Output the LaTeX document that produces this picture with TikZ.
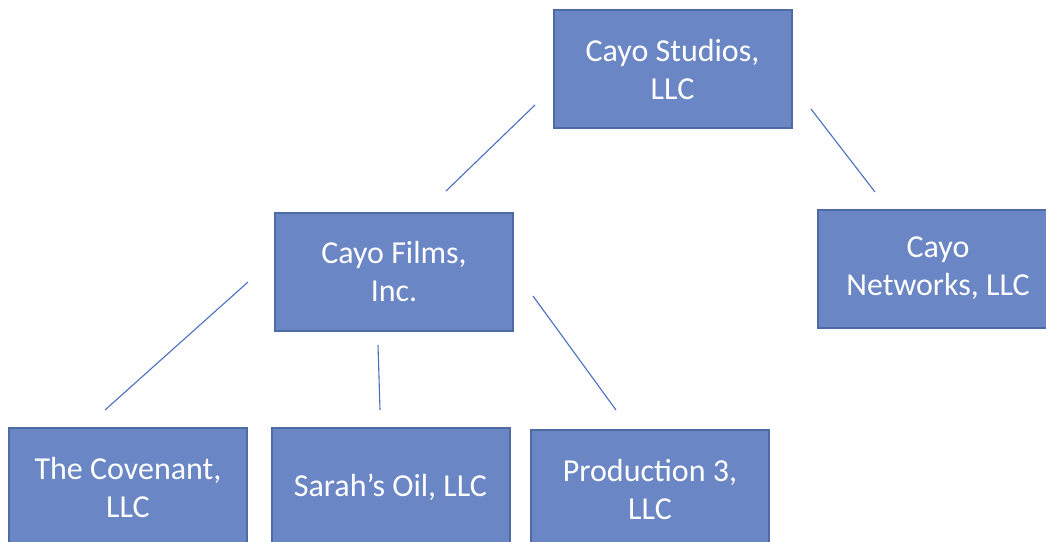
\documentclass[tikz,border=0pt]{standalone}
\usepackage{fontspec}
\setmainfont{Carlito}
\definecolor{boxfill}{HTML}{6A86C4}
\definecolor{boxedge}{HTML}{4F6BA6}
\definecolor{linkcol}{HTML}{4A6FBF}
\tikzset{
  orgbox/.style={draw=boxedge, line width=2pt, fill=boxfill, text=white,
    minimum width=238pt, minimum height=118pt, inner sep=0pt, align=center,
    font=\fontsize{32pt}{38pt}\selectfont},
  link/.style={draw=linkcol, line width=1.1pt}
}
\begin{document}
\begin{tikzpicture}[x=1pt,y=-1pt]
\useasboundingbox (0,0) rectangle (1046,541);
\clip (0,0) rectangle (1046,541);
\fill[white] (0,0) rectangle (1046,541);
\node[orgbox] (studios) at (672.5,69) {Cayo Studios,\\LLC};
\node[orgbox] (films) at (394,272) {Cayo Films,\\Inc.};
\node[orgbox, minimum width=240pt] (networks) at (938,268.5) {Cayo\\Networks, LLC};
\node[orgbox] (covenant) at (128,487) {The Covenant,\\LLC};
\node[orgbox] (sarah) at (390.5,487) {Sarah’s Oil, LLC};
\node[orgbox] (prod) at (650,489) {Production 3,\\LLC};
\coordinate (a1) at (535,105); \coordinate (a2) at (446,191);
\coordinate (b1) at (811,109); \coordinate (b2) at (875,192);
\coordinate (c1) at (248,282); \coordinate (c2) at (105,410);
\coordinate (d1) at (378,345); \coordinate (d2) at (380,410);
\coordinate (e1) at (533,296); \coordinate (e2) at (616,410);
\draw[link] (a1) -- (a2);
\draw[link] (b1) -- (b2);
\draw[link] (c1) -- (c2);
\draw[link] (d1) -- (d2);
\draw[link] (e1) -- (e2);
\end{tikzpicture}
\end{document}
